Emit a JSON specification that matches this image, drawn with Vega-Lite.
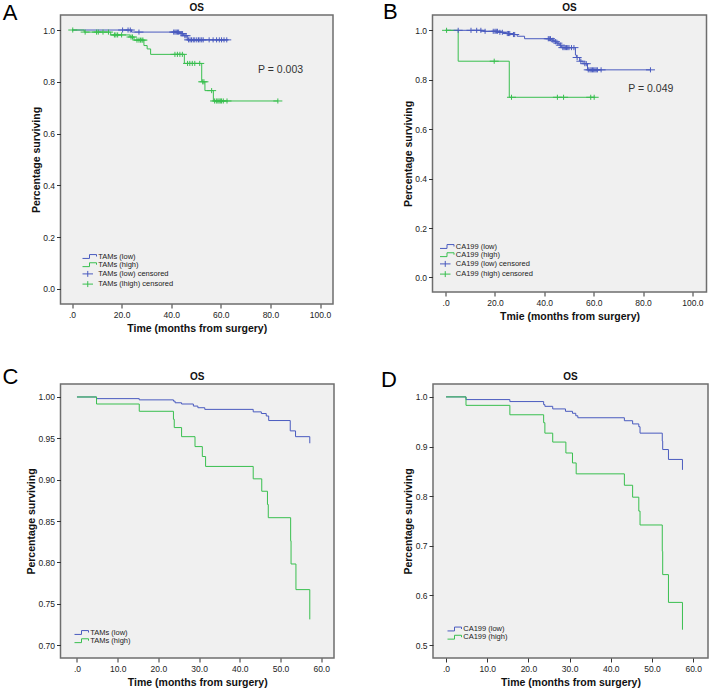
{
  "$schema": "https://vega.github.io/schema/vega-lite/v6.json",
  "padding": {"left": 2.5, "top": 0, "right": 0, "bottom": 0},
  "columns": 1,
  "align": "none",
  "spacing": 31,
  "resolve": {"scale": {"color": "independent", "shape": "independent"}},
  "datasets": {
    "curves": [
      {"panel":"A","series":"TAMs (low)","t":0,"s":1},{"panel":"A","series":"TAMs (low)","t":24,"s":0.992},{"panel":"A","series":"TAMs (low)","t":43.5,"s":0.986},{"panel":"A","series":"TAMs (low)","t":45,"s":0.978},{"panel":"A","series":"TAMs (low)","t":46.5,"s":0.962},{"panel":"A","series":"TAMs (low)","t":63,"s":0.962},
      {"panel":"A","series":"TAMs (high)","t":0,"s":1},{"panel":"A","series":"TAMs (high)","t":4.9,"s":0.992},{"panel":"A","series":"TAMs (high)","t":15.6,"s":0.981},{"panel":"A","series":"TAMs (high)","t":23.4,"s":0.973},{"panel":"A","series":"TAMs (high)","t":25,"s":0.961},{"panel":"A","series":"TAMs (high)","t":29,"s":0.94},{"panel":"A","series":"TAMs (high)","t":30.3,"s":0.927},{"panel":"A","series":"TAMs (high)","t":31.7,"s":0.906},{"panel":"A","series":"TAMs (high)","t":45.3,"s":0.871},{"panel":"A","series":"TAMs (high)","t":52.3,"s":0.8},{"panel":"A","series":"TAMs (high)","t":53.6,"s":0.766},{"panel":"A","series":"TAMs (high)","t":57,"s":0.726},{"panel":"A","series":"TAMs (high)","t":83,"s":0.726},
      {"panel":"B","series":"CA199 (low)","t":0,"s":1},{"panel":"B","series":"CA199 (low)","t":15.3,"s":0.996},{"panel":"B","series":"CA199 (low)","t":21.5,"s":0.992},{"panel":"B","series":"CA199 (low)","t":24.5,"s":0.987},{"panel":"B","series":"CA199 (low)","t":27,"s":0.983},{"panel":"B","series":"CA199 (low)","t":29,"s":0.976},{"panel":"B","series":"CA199 (low)","t":32,"s":0.966},{"panel":"B","series":"CA199 (low)","t":43,"s":0.96},{"panel":"B","series":"CA199 (low)","t":44,"s":0.954},{"panel":"B","series":"CA199 (low)","t":45,"s":0.948},{"panel":"B","series":"CA199 (low)","t":46,"s":0.94},{"panel":"B","series":"CA199 (low)","t":47,"s":0.93},{"panel":"B","series":"CA199 (low)","t":52.6,"s":0.9},{"panel":"B","series":"CA199 (low)","t":53,"s":0.89},{"panel":"B","series":"CA199 (low)","t":54.3,"s":0.875},{"panel":"B","series":"CA199 (low)","t":55.7,"s":0.865},{"panel":"B","series":"CA199 (low)","t":57.5,"s":0.84},{"panel":"B","series":"CA199 (low)","t":83,"s":0.84},
      {"panel":"B","series":"CA199 (high)","t":0,"s":1},{"panel":"B","series":"CA199 (high)","t":5.1,"s":0.875},{"panel":"B","series":"CA199 (high)","t":25.8,"s":0.729},{"panel":"B","series":"CA199 (high)","t":60.2,"s":0.729},
      {"panel":"C","series":"TAMs (low)","t":0,"s":1},{"panel":"C","series":"TAMs (low)","t":4.8,"s":0.998},{"panel":"C","series":"TAMs (low)","t":15.3,"s":0.9965},{"panel":"C","series":"TAMs (low)","t":23.7,"s":0.995},{"panel":"C","series":"TAMs (low)","t":24.1,"s":0.993},{"panel":"C","series":"TAMs (low)","t":25.7,"s":0.9915},{"panel":"C","series":"TAMs (low)","t":28.6,"s":0.989},{"panel":"C","series":"TAMs (low)","t":29.7,"s":0.987},{"panel":"C","series":"TAMs (low)","t":31.4,"s":0.985},{"panel":"C","series":"TAMs (low)","t":43.3,"s":0.982},{"panel":"C","series":"TAMs (low)","t":45.3,"s":0.98},{"panel":"C","series":"TAMs (low)","t":46.5,"s":0.977},{"panel":"C","series":"TAMs (low)","t":47.1,"s":0.9715},{"panel":"C","series":"TAMs (low)","t":52.4,"s":0.959},{"panel":"C","series":"TAMs (low)","t":53.7,"s":0.952},{"panel":"C","series":"TAMs (low)","t":57.2,"s":0.944},
      {"panel":"C","series":"TAMs (high)","t":0,"s":1},{"panel":"C","series":"TAMs (high)","t":4.8,"s":0.9915},{"panel":"C","series":"TAMs (high)","t":15.3,"s":0.9827},{"panel":"C","series":"TAMs (high)","t":23.7,"s":0.973},{"panel":"C","series":"TAMs (high)","t":23.9,"s":0.963},{"panel":"C","series":"TAMs (high)","t":25.7,"s":0.952},{"panel":"C","series":"TAMs (high)","t":29,"s":0.94},{"panel":"C","series":"TAMs (high)","t":30.8,"s":0.928},{"panel":"C","series":"TAMs (high)","t":31.6,"s":0.916},{"panel":"C","series":"TAMs (high)","t":43.3,"s":0.901},{"panel":"C","series":"TAMs (high)","t":45.4,"s":0.886},{"panel":"C","series":"TAMs (high)","t":46.8,"s":0.87},{"panel":"C","series":"TAMs (high)","t":47,"s":0.854},{"panel":"C","series":"TAMs (high)","t":52.5,"s":0.826},{"panel":"C","series":"TAMs (high)","t":52.6,"s":0.798},{"panel":"C","series":"TAMs (high)","t":53.8,"s":0.767},{"panel":"C","series":"TAMs (high)","t":57.2,"s":0.731},
      {"panel":"D","series":"CA199 (low)","t":0,"s":1},{"panel":"D","series":"CA199 (low)","t":4.85,"s":0.9946},{"panel":"D","series":"CA199 (low)","t":15.5,"s":0.9906},{"panel":"D","series":"CA199 (low)","t":23.7,"s":0.9845},{"panel":"D","series":"CA199 (low)","t":24,"s":0.981},{"panel":"D","series":"CA199 (low)","t":25.9,"s":0.9758},{"panel":"D","series":"CA199 (low)","t":29,"s":0.971},{"panel":"D","series":"CA199 (low)","t":30.7,"s":0.967},{"panel":"D","series":"CA199 (low)","t":31.5,"s":0.962},{"panel":"D","series":"CA199 (low)","t":32,"s":0.958},{"panel":"D","series":"CA199 (low)","t":43.3,"s":0.952},{"panel":"D","series":"CA199 (low)","t":45.3,"s":0.9456},{"panel":"D","series":"CA199 (low)","t":46.8,"s":0.94},{"panel":"D","series":"CA199 (low)","t":47.1,"s":0.927},{"panel":"D","series":"CA199 (low)","t":52.5,"s":0.911},{"panel":"D","series":"CA199 (low)","t":52.6,"s":0.894},{"panel":"D","series":"CA199 (low)","t":54,"s":0.874},{"panel":"D","series":"CA199 (low)","t":57.4,"s":0.853},
      {"panel":"D","series":"CA199 (high)","t":0,"s":1},{"panel":"D","series":"CA199 (high)","t":4.85,"s":0.983},{"panel":"D","series":"CA199 (high)","t":15.5,"s":0.964},{"panel":"D","series":"CA199 (high)","t":23.7,"s":0.948},{"panel":"D","series":"CA199 (high)","t":24,"s":0.927},{"panel":"D","series":"CA199 (high)","t":25.9,"s":0.909},{"panel":"D","series":"CA199 (high)","t":29.1,"s":0.887},{"panel":"D","series":"CA199 (high)","t":30.7,"s":0.867},{"panel":"D","series":"CA199 (high)","t":31.6,"s":0.845},{"panel":"D","series":"CA199 (high)","t":43.3,"s":0.822},{"panel":"D","series":"CA199 (high)","t":45.3,"s":0.798},{"panel":"D","series":"CA199 (high)","t":46.8,"s":0.77},{"panel":"D","series":"CA199 (high)","t":47.1,"s":0.742},{"panel":"D","series":"CA199 (high)","t":52.5,"s":0.689},{"panel":"D","series":"CA199 (high)","t":52.6,"s":0.642},{"panel":"D","series":"CA199 (high)","t":54,"s":0.586},{"panel":"D","series":"CA199 (high)","t":57.4,"s":0.531}
    ],
    "censors": [
      {"panel":"A","series":"TAMs (low) censored","t":20.4,"s":1},{"panel":"A","series":"TAMs (low) censored","t":22.6,"s":1},{"panel":"A","series":"TAMs (low) censored","t":23.5,"s":1},
      {"panel":"A","series":"TAMs (low) censored","t":27,"s":0.992},{"panel":"A","series":"TAMs (low) censored","t":41,"s":0.992},{"panel":"A","series":"TAMs (low) censored","t":41.5,"s":0.992},{"panel":"A","series":"TAMs (low) censored","t":42,"s":0.992},{"panel":"A","series":"TAMs (low) censored","t":42.5,"s":0.992},{"panel":"A","series":"TAMs (low) censored","t":43,"s":0.992},
      {"panel":"A","series":"TAMs (low) censored","t":44,"s":0.986},{"panel":"A","series":"TAMs (low) censored","t":44.5,"s":0.986},{"panel":"A","series":"TAMs (low) censored","t":45.5,"s":0.978},{"panel":"A","series":"TAMs (low) censored","t":46,"s":0.978},
      {"panel":"A","series":"TAMs (low) censored","t":47,"s":0.962},{"panel":"A","series":"TAMs (low) censored","t":47.6,"s":0.962},{"panel":"A","series":"TAMs (low) censored","t":48.2,"s":0.962},{"panel":"A","series":"TAMs (low) censored","t":48.9,"s":0.962},{"panel":"A","series":"TAMs (low) censored","t":49.5,"s":0.962},{"panel":"A","series":"TAMs (low) censored","t":50.3,"s":0.962},{"panel":"A","series":"TAMs (low) censored","t":51,"s":0.962},{"panel":"A","series":"TAMs (low) censored","t":51.6,"s":0.962},{"panel":"A","series":"TAMs (low) censored","t":52.3,"s":0.962},{"panel":"A","series":"TAMs (low) censored","t":52.9,"s":0.962},{"panel":"A","series":"TAMs (low) censored","t":55.3,"s":0.962},{"panel":"A","series":"TAMs (low) censored","t":56.9,"s":0.962},{"panel":"A","series":"TAMs (low) censored","t":58.3,"s":0.962},{"panel":"A","series":"TAMs (low) censored","t":59.4,"s":0.962},{"panel":"A","series":"TAMs (low) censored","t":60.3,"s":0.962},{"panel":"A","series":"TAMs (low) censored","t":61.3,"s":0.962},{"panel":"A","series":"TAMs (low) censored","t":62.4,"s":0.962},
      {"panel":"A","series":"TAMs (lhigh) censored","t":0.3,"s":1},{"panel":"A","series":"TAMs (lhigh) censored","t":5.3,"s":0.992},{"panel":"A","series":"TAMs (lhigh) censored","t":9.9,"s":0.992},{"panel":"A","series":"TAMs (lhigh) censored","t":10.6,"s":0.992},{"panel":"A","series":"TAMs (lhigh) censored","t":12.5,"s":0.992},{"panel":"A","series":"TAMs (lhigh) censored","t":14.7,"s":0.992},
      {"panel":"A","series":"TAMs (lhigh) censored","t":17.1,"s":0.981},{"panel":"A","series":"TAMs (lhigh) censored","t":17.7,"s":0.981},{"panel":"A","series":"TAMs (lhigh) censored","t":18.4,"s":0.981},{"panel":"A","series":"TAMs (lhigh) censored","t":20,"s":0.981},
      {"panel":"A","series":"TAMs (lhigh) censored","t":23.8,"s":0.973},{"panel":"A","series":"TAMs (lhigh) censored","t":24.4,"s":0.973},
      {"panel":"A","series":"TAMs (lhigh) censored","t":26.2,"s":0.961},{"panel":"A","series":"TAMs (lhigh) censored","t":27,"s":0.961},{"panel":"A","series":"TAMs (lhigh) censored","t":27.6,"s":0.961},{"panel":"A","series":"TAMs (lhigh) censored","t":28.2,"s":0.961},{"panel":"A","series":"TAMs (lhigh) censored","t":28.6,"s":0.961},
      {"panel":"A","series":"TAMs (lhigh) censored","t":41.5,"s":0.906},{"panel":"A","series":"TAMs (lhigh) censored","t":42.5,"s":0.906},{"panel":"A","series":"TAMs (lhigh) censored","t":43.5,"s":0.906},{"panel":"A","series":"TAMs (lhigh) censored","t":44.5,"s":0.906},
      {"panel":"A","series":"TAMs (lhigh) censored","t":46.6,"s":0.871},{"panel":"A","series":"TAMs (lhigh) censored","t":47.5,"s":0.871},{"panel":"A","series":"TAMs (lhigh) censored","t":48.5,"s":0.871},{"panel":"A","series":"TAMs (lhigh) censored","t":49.5,"s":0.871},{"panel":"A","series":"TAMs (lhigh) censored","t":51.5,"s":0.871},
      {"panel":"A","series":"TAMs (lhigh) censored","t":52.7,"s":0.8},{"panel":"A","series":"TAMs (lhigh) censored","t":53.2,"s":0.8},{"panel":"A","series":"TAMs (lhigh) censored","t":56.3,"s":0.766},
      {"panel":"A","series":"TAMs (lhigh) censored","t":57.5,"s":0.726},{"panel":"A","series":"TAMs (lhigh) censored","t":58.2,"s":0.726},{"panel":"A","series":"TAMs (lhigh) censored","t":58.8,"s":0.726},{"panel":"A","series":"TAMs (lhigh) censored","t":59.3,"s":0.726},{"panel":"A","series":"TAMs (lhigh) censored","t":59.8,"s":0.726},{"panel":"A","series":"TAMs (lhigh) censored","t":60.3,"s":0.726},{"panel":"A","series":"TAMs (lhigh) censored","t":61,"s":0.726},{"panel":"A","series":"TAMs (lhigh) censored","t":62.5,"s":0.726},{"panel":"A","series":"TAMs (lhigh) censored","t":83,"s":0.726},
      {"panel":"B","series":"CA199 (low) censored","t":5.1,"s":1},{"panel":"B","series":"CA199 (low) censored","t":10.3,"s":1},{"panel":"B","series":"CA199 (low) censored","t":12.6,"s":1},{"panel":"B","series":"CA199 (low) censored","t":14.3,"s":1},
      {"panel":"B","series":"CA199 (low) censored","t":16,"s":0.996},{"panel":"B","series":"CA199 (low) censored","t":19.3,"s":0.996},{"panel":"B","series":"CA199 (low) censored","t":20,"s":0.996},{"panel":"B","series":"CA199 (low) censored","t":20.5,"s":0.996},{"panel":"B","series":"CA199 (low) censored","t":21,"s":0.996},
      {"panel":"B","series":"CA199 (low) censored","t":22,"s":0.992},{"panel":"B","series":"CA199 (low) censored","t":23,"s":0.992},{"panel":"B","series":"CA199 (low) censored","t":25,"s":0.987},{"panel":"B","series":"CA199 (low) censored","t":25.5,"s":0.987},{"panel":"B","series":"CA199 (low) censored","t":26,"s":0.987},{"panel":"B","series":"CA199 (low) censored","t":27.5,"s":0.983},{"panel":"B","series":"CA199 (low) censored","t":28,"s":0.983},
      {"panel":"B","series":"CA199 (low) censored","t":41.6,"s":0.966},{"panel":"B","series":"CA199 (low) censored","t":42,"s":0.966},{"panel":"B","series":"CA199 (low) censored","t":42.5,"s":0.966},{"panel":"B","series":"CA199 (low) censored","t":43.5,"s":0.96},{"panel":"B","series":"CA199 (low) censored","t":44.5,"s":0.954},{"panel":"B","series":"CA199 (low) censored","t":45.5,"s":0.948},{"panel":"B","series":"CA199 (low) censored","t":46.5,"s":0.94},
      {"panel":"B","series":"CA199 (low) censored","t":47.5,"s":0.93},{"panel":"B","series":"CA199 (low) censored","t":48,"s":0.93},{"panel":"B","series":"CA199 (low) censored","t":48.5,"s":0.93},{"panel":"B","series":"CA199 (low) censored","t":49,"s":0.93},{"panel":"B","series":"CA199 (low) censored","t":49.5,"s":0.93},{"panel":"B","series":"CA199 (low) censored","t":50,"s":0.93},{"panel":"B","series":"CA199 (low) censored","t":51,"s":0.93},{"panel":"B","series":"CA199 (low) censored","t":52,"s":0.93},
      {"panel":"B","series":"CA199 (low) censored","t":53.3,"s":0.89},{"panel":"B","series":"CA199 (low) censored","t":54.8,"s":0.875},{"panel":"B","series":"CA199 (low) censored","t":56.4,"s":0.865},{"panel":"B","series":"CA199 (low) censored","t":57,"s":0.865},
      {"panel":"B","series":"CA199 (low) censored","t":57.8,"s":0.84},{"panel":"B","series":"CA199 (low) censored","t":58.5,"s":0.84},{"panel":"B","series":"CA199 (low) censored","t":59,"s":0.84},{"panel":"B","series":"CA199 (low) censored","t":59.5,"s":0.84},{"panel":"B","series":"CA199 (low) censored","t":60,"s":0.84},{"panel":"B","series":"CA199 (low) censored","t":60.5,"s":0.84},{"panel":"B","series":"CA199 (low) censored","t":61,"s":0.84},{"panel":"B","series":"CA199 (low) censored","t":61.5,"s":0.84},{"panel":"B","series":"CA199 (low) censored","t":63,"s":0.84},{"panel":"B","series":"CA199 (low) censored","t":83,"s":0.84},
      {"panel":"B","series":"CA199 (high) censored","t":0.4,"s":1},{"panel":"B","series":"CA199 (high) censored","t":19.7,"s":0.875},{"panel":"B","series":"CA199 (high) censored","t":26.7,"s":0.729},{"panel":"B","series":"CA199 (high) censored","t":45.3,"s":0.729},{"panel":"B","series":"CA199 (high) censored","t":47.8,"s":0.729},{"panel":"B","series":"CA199 (high) censored","t":58.8,"s":0.729},{"panel":"B","series":"CA199 (high) censored","t":60.2,"s":0.729}
    ],
    "notes": [
      {"panel":"A","label":"P = 0.003"},
      {"panel":"B","label":"P = 0.049"}
    ]
  },
  "concat": [
    {
      "hconcat": [
        {
          "title": {"text": "A", "anchor": "start", "frame": "group", "fontSize": 22, "fontWeight": "normal", "color": "#000", "offset": 0, "dx": -57.8, "dy": 23},
          "resolve": {"scale": {"color": "independent", "shape": "independent"}},
          "vconcat": [
            {
              "width": 272.5, "height": 289,
              "title": {"text": "OS", "fontSize": 10, "fontWeight": "bold", "anchor": "middle", "frame": "group", "offset": 2, "color": "#111"},
              "layer": [
                {
                  "data": {"name": "curves"},
                  "transform": [{"filter": "datum.panel === 'A'"}],
                  "mark": {"type": "line", "interpolate": "step-after", "strokeWidth": 1},
                  "encoding": {
                    "x": {"field": "t", "type": "quantitative", "scale": {"domain": [-4.64, 105.24], "nice": false, "zero": false},
                      "axis": {"values": [0, 20, 40, 60, 80, 100], "labelExpr": "datum.value === 0 ? '.0' : format(datum.value, '.1f')", "title": "Time (months from surgery)"}},
                    "y": {"field": "s", "type": "quantitative", "scale": {"domain": [-0.058, 1.058], "nice": false, "zero": false},
                      "axis": {"values": [0, 0.2, 0.4, 0.6, 0.8, 1], "format": ".1f", "title": "Percentage surviving"}},
                    "color": {"field": "series", "type": "nominal",
                      "scale": {"domain": ["TAMs (low)", "TAMs (high)", "TAMs (low) censored", "TAMs (lhigh) censored"], "range": ["#4a5bbf", "#39bf4f", "#4a5bbf", "#39bf4f"]},
                      "legend": {"title": null, "orient": "none", "legendX": 23.25, "legendY": 237.5}}
                  }
                },
                {
                  "data": {"name": "censors"},
                  "transform": [{"filter": "datum.panel === 'A'"}],
                  "mark": {"type": "point", "filled": false, "strokeWidth": 1, "size": 36, "opacity": 1},
                  "encoding": {
                    "x": {"field": "t", "type": "quantitative"},
                    "y": {"field": "s", "type": "quantitative"},
                    "color": {"field": "series", "type": "nominal",
                      "scale": {"domain": ["TAMs (low)", "TAMs (high)", "TAMs (low) censored", "TAMs (lhigh) censored"], "range": ["#4a5bbf", "#39bf4f", "#4a5bbf", "#39bf4f"]},
                      "legend": {"title": null, "orient": "none", "legendX": 23.25, "legendY": 237.5}},
                    "shape": {"field": "series", "type": "nominal",
                      "scale": {"domain": ["TAMs (low)", "TAMs (high)", "TAMs (low) censored", "TAMs (lhigh) censored"], "range": ["M-1.5,0.55H0.5V-0.55H2.5V0", "M-1.5,0.55H0.5V-0.55H2.5V0", "M-1.5,0H1.5M0,-0.85V0.85", "M-1.5,0H1.5M0,-0.85V0.85"]},
                      "legend": {"title": null, "orient": "none", "legendX": 23.25, "legendY": 237.5}}
                  }
                },
                {
                  "data": {"name": "notes"},
                  "transform": [{"filter": "datum.panel === 'A'"}],
                  "mark": {"type": "text", "align": "left", "baseline": "middle", "fontSize": 10.5, "color": "#333"},
                  "encoding": {"text": {"field": "label"}, "x": {"datum": 75}, "y": {"datum": 0.846}}
                }
              ]
            }
          ]
        },
        {
          "title": {"text": "B", "anchor": "start", "frame": "group", "fontSize": 22, "fontWeight": "normal", "color": "#000", "offset": 0, "dx": -49.4, "dy": 21.5},
          "resolve": {"scale": {"color": "independent", "shape": "independent"}},
          "vconcat": [
            {
              "width": 274, "height": 277,
              "title": {"text": "OS", "fontSize": 10, "fontWeight": "bold", "anchor": "middle", "frame": "group", "offset": 2, "color": "#111"},
              "layer": [
                {
                  "data": {"name": "curves"},
                  "transform": [{"filter": "datum.panel === 'B'"}],
                  "mark": {"type": "line", "interpolate": "step-after", "strokeWidth": 1},
                  "encoding": {
                    "x": {"field": "t", "type": "quantitative", "scale": {"domain": [-5.3, 105.7], "nice": false, "zero": false},
                      "axis": {"values": [0, 20, 40, 60, 80, 100], "labelExpr": "datum.value === 0 ? '.0' : format(datum.value, '.1f')", "title": "Tmie (months from surgery)"}},
                    "y": {"field": "s", "type": "quantitative", "scale": {"domain": [-0.059, 1.062], "nice": false, "zero": false},
                      "axis": {"values": [0, 0.2, 0.4, 0.6, 0.8, 1], "format": ".1f", "title": "Percentage surviving"}},
                    "color": {"field": "series", "type": "nominal",
                      "scale": {"domain": ["CA199 (low)", "CA199 (high)", "CA199 (low) censored", "CA199 (high) censored"], "range": ["#4a5bbf", "#39bf4f", "#4a5bbf", "#39bf4f"]},
                      "legend": {"title": null, "orient": "none", "legendX": 8.75, "legendY": 227.5}}
                  }
                },
                {
                  "data": {"name": "censors"},
                  "transform": [{"filter": "datum.panel === 'B'"}],
                  "mark": {"type": "point", "filled": false, "strokeWidth": 1, "size": 36, "opacity": 1},
                  "encoding": {
                    "x": {"field": "t", "type": "quantitative"},
                    "y": {"field": "s", "type": "quantitative"},
                    "color": {"field": "series", "type": "nominal",
                      "scale": {"domain": ["CA199 (low)", "CA199 (high)", "CA199 (low) censored", "CA199 (high) censored"], "range": ["#4a5bbf", "#39bf4f", "#4a5bbf", "#39bf4f"]},
                      "legend": {"title": null, "orient": "none", "legendX": 8.75, "legendY": 227.5}},
                    "shape": {"field": "series", "type": "nominal",
                      "scale": {"domain": ["CA199 (low)", "CA199 (high)", "CA199 (low) censored", "CA199 (high) censored"], "range": ["M-1.5,0.55H0.5V-0.55H2.5V0", "M-1.5,0.55H0.5V-0.55H2.5V0", "M-1.5,0H1.5M0,-0.85V0.85", "M-1.5,0H1.5M0,-0.85V0.85"]},
                      "legend": {"title": null, "orient": "none", "legendX": 8.75, "legendY": 227.5}}
                  }
                },
                {
                  "data": {"name": "notes"},
                  "transform": [{"filter": "datum.panel === 'B'"}],
                  "mark": {"type": "text", "align": "left", "baseline": "middle", "fontSize": 10.5, "color": "#333"},
                  "encoding": {"text": {"field": "label"}, "x": {"datum": 74}, "y": {"datum": 0.764}}
                }
              ]
            }
          ]
        }
      ],
      "spacing": 48,
      "resolve": {"scale": {"color": "independent", "shape": "independent"}}
    },
    {
      "hconcat": [
        {
          "title": {"text": "C", "anchor": "start", "frame": "group", "fontSize": 22, "fontWeight": "normal", "color": "#000", "offset": 0, "dx": -58, "dy": 18},
          "resolve": {"scale": {"color": "independent", "shape": "independent"}},
          "vconcat": [
            {
              "width": 273.5, "height": 274,
              "title": {"text": "OS", "fontSize": 10, "fontWeight": "bold", "anchor": "middle", "frame": "group", "offset": 2, "color": "#111"},
              "data": {"name": "curves"},
              "transform": [{"filter": "datum.panel === 'C'"}],
              "mark": {"type": "line", "interpolate": "step-after", "strokeWidth": 1},
              "encoding": {
                "x": {"field": "t", "type": "quantitative", "scale": {"domain": [-4.05, 63.15], "nice": false, "zero": false},
                  "axis": {"values": [0, 10, 20, 30, 40, 50, 60], "labelExpr": "datum.value === 0 ? '.0' : format(datum.value, '.1f')", "title": "Time (months from surgery)"}},
                "y": {"field": "s", "type": "quantitative", "scale": {"domain": [0.6843, 1.0157], "nice": false, "zero": false},
                  "axis": {"values": [0.7, 0.75, 0.8, 0.85, 0.9, 0.95, 1], "format": ".2f", "title": "Percentage surviving"}},
                "color": {"field": "series", "type": "nominal",
                  "scale": {"domain": ["TAMs (low)", "TAMs (high)"], "range": ["#4a5bbf", "#39bf4f"]},
                  "legend": {"title": null, "orient": "none", "legendX": 15.25, "legendY": 244.5, "symbolType": "M-1.5,0.55H0.5V-0.55H2.5V0"}}
              }
            }
          ]
        },
        {
          "title": {"text": "D", "anchor": "start", "frame": "group", "fontSize": 22, "fontWeight": "normal", "color": "#000", "offset": 0, "dx": -52, "dy": 20.5},
          "resolve": {"scale": {"color": "independent", "shape": "independent"}},
          "vconcat": [
            {
              "width": 275, "height": 274,
              "title": {"text": "OS", "fontSize": 10, "fontWeight": "bold", "anchor": "middle", "frame": "group", "offset": 2, "color": "#111"},
              "data": {"name": "curves"},
              "transform": [{"filter": "datum.panel === 'D'"}],
              "mark": {"type": "line", "interpolate": "step-after", "strokeWidth": 1},
              "encoding": {
                "x": {"field": "t", "type": "quantitative", "scale": {"domain": [-3.16, 63.6], "nice": false, "zero": false},
                  "axis": {"values": [0, 10, 20, 30, 40, 50, 60], "labelExpr": "datum.value === 0 ? '.0' : format(datum.value, '.1f')", "title": "Time (months from surgery)"}},
                "y": {"field": "s", "type": "quantitative", "scale": {"domain": [0.474, 1.026], "nice": false, "zero": false},
                  "axis": {"values": [0.5, 0.6, 0.7, 0.8, 0.9, 1], "format": ".1f", "title": "Percentage surviving"}},
                "color": {"field": "series", "type": "nominal",
                  "scale": {"domain": ["CA199 (low)", "CA199 (high)"], "range": ["#4a5bbf", "#39bf4f"]},
                  "legend": {"title": null, "orient": "none", "legendX": 15.75, "legendY": 241, "symbolType": "M-1.5,0.55H0.5V-0.55H2.5V0"}}
              }
            }
          ]
        }
      ],
      "spacing": 45.5,
      "resolve": {"scale": {"color": "independent", "shape": "independent"}}
    }
  ],
  "config": {
    "font": "Liberation Sans",
    "background": "#ffffff",
    "view": {"fill": "#f0f0f0", "stroke": "#6e6e6e", "strokeWidth": 1.5},
    "axis": {"domain": false, "grid": false, "ticks": true, "tickColor": "#333333", "tickSize": 4, "labelFont": "Liberation Sans", "labelFontSize": 8.5, "labelColor": "#222222", "labelPadding": 2, "titleFont": "Liberation Sans", "titleFontSize": 10.5, "titleFontWeight": "bold", "titleColor": "#111111"},
    "axisX": {"titlePadding": 5},
    "axisY": {"titlePadding": 1.5},
    "legend": {"labelFont": "Liberation Sans", "labelFontSize": 7.5, "labelColor": "#222222", "symbolSize": 49, "symbolStrokeWidth": 1, "rowPadding": 0.2, "labelOffset": 6.5, "padding": 0, "symbolFillColor": "transparent"}
  }
}
